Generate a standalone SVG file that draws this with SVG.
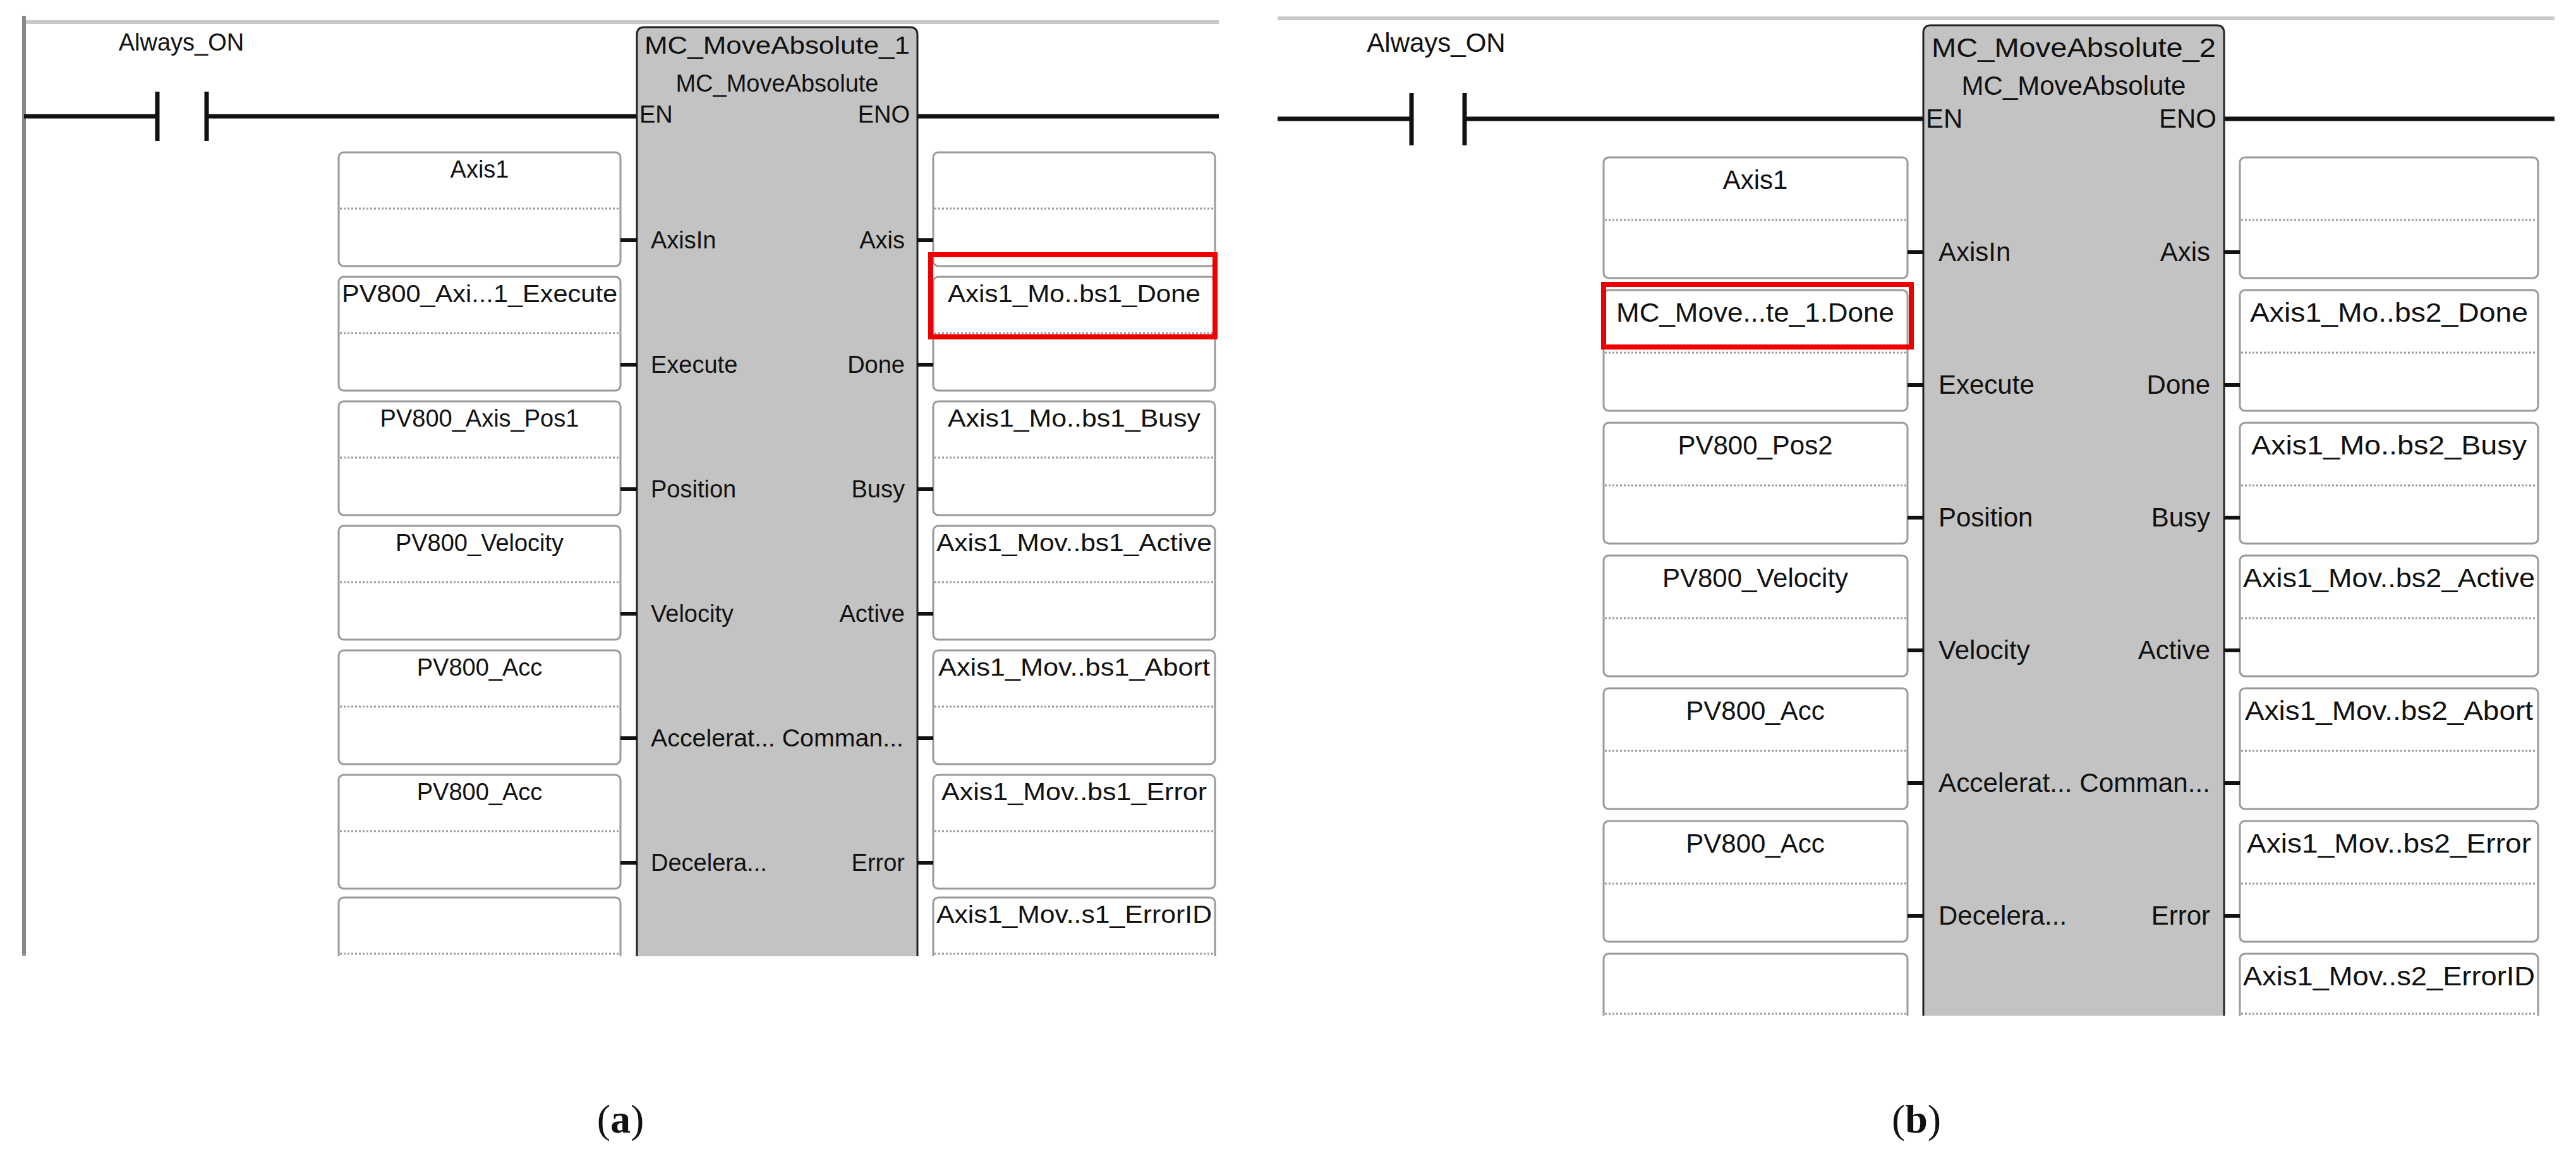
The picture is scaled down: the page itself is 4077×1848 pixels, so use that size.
<svg xmlns="http://www.w3.org/2000/svg" width="4077" height="1848" viewBox="0 0 4077 1848">
<style>
text{font-family:"Liberation Sans",Arial,sans-serif;fill:#111}
.a{font-size:38px}.b{font-size:42px}
.box{fill:#fff;stroke:#9a9a9a;stroke-width:3}
.dot{stroke:#999;stroke-width:3;stroke-dasharray:3 3}
.tick{stroke:#111;stroke-width:6}
.rung{stroke:#111;stroke-width:7;fill:none}
.blk{fill:#c3c3c3;stroke:#222;stroke-width:3}
.red{fill:none;stroke:#e00;stroke-width:8}
.cap{font-family:"Liberation Serif",serif;font-size:64px}
</style>
<defs>
<clipPath id="ca"><rect x="0" y="0" width="2000" height="1513"/></clipPath>
<clipPath id="cb"><rect x="1990" y="0" width="2087" height="1607"/></clipPath>
</defs>
<rect width="4077" height="1848" fill="#fff"/>
<g id="panelA" clip-path="url(#ca)">
<line x1="38" y1="35" x2="1929" y2="35" stroke="#c8c8c8" stroke-width="6"/>
<line x1="38" y1="25" x2="38" y2="1512" stroke="#888" stroke-width="6"/>
<g id="connectorsA">
<path class="rung" d="M38 184H249M327 184H1008M1452 184H1929"/>
<path class="rung" d="M249 145V223M327 145V223"/>
</g>
<text class="a" x="287" y="80" text-anchor="middle">Always_ON</text>
<g id="blockA">
<path class="blk" d="M1008 1520V55Q1008 43 1020 43H1440Q1452 43 1452 55V1520"/>
<text class="a" x="1230" y="85" text-anchor="middle" textLength="420" lengthAdjust="spacingAndGlyphs">MC_MoveAbsolute_1</text>
<text class="a" x="1230" y="145" text-anchor="middle">MC_MoveAbsolute</text>
<text class="a" x="1012" y="194">EN</text>
<text class="a" x="1440" y="194" text-anchor="end">ENO</text>
</g>
<g id="inA">
<rect class="box" x="536" y="241" width="446" height="180" rx="8"/><line class="dot" x1="538" y1="330" x2="980" y2="330"/><text class="a" x="759" y="281" text-anchor="middle">Axis1</text>
<rect class="box" x="536" y="438" width="446" height="180" rx="8"/><line class="dot" x1="538" y1="527" x2="980" y2="527"/><text class="a" x="759" y="478" text-anchor="middle" textLength="436" lengthAdjust="spacingAndGlyphs">PV800_Axi...1_Execute</text>
<rect class="box" x="536" y="635" width="446" height="180" rx="8"/><line class="dot" x1="538" y1="724" x2="980" y2="724"/><text class="a" x="759" y="675" text-anchor="middle">PV800_Axis_Pos1</text>
<rect class="box" x="536" y="832" width="446" height="180" rx="8"/><line class="dot" x1="538" y1="921" x2="980" y2="921"/><text class="a" x="759" y="872" text-anchor="middle">PV800_Velocity</text>
<rect class="box" x="536" y="1029" width="446" height="180" rx="8"/><line class="dot" x1="538" y1="1118" x2="980" y2="1118"/><text class="a" x="759" y="1069" text-anchor="middle">PV800_Acc</text>
<rect class="box" x="536" y="1226" width="446" height="180" rx="8"/><line class="dot" x1="538" y1="1315" x2="980" y2="1315"/><text class="a" x="759" y="1266" text-anchor="middle">PV800_Acc</text>
<rect class="box" x="536" y="1420" width="446" height="180" rx="8"/><line class="dot" x1="538" y1="1509" x2="980" y2="1509"/>
</g>
<g id="outA">
<rect class="box" x="1477" y="241" width="446" height="180" rx="8"/><line class="dot" x1="1479" y1="330" x2="1921" y2="330"/>
<rect class="box" x="1477" y="438" width="446" height="180" rx="8"/><line class="dot" x1="1479" y1="527" x2="1921" y2="527"/><text class="a" x="1700" y="478" text-anchor="middle" textLength="400" lengthAdjust="spacingAndGlyphs">Axis1_Mo..bs1_Done</text>
<rect class="box" x="1477" y="635" width="446" height="180" rx="8"/><line class="dot" x1="1479" y1="724" x2="1921" y2="724"/><text class="a" x="1700" y="675" text-anchor="middle" textLength="400" lengthAdjust="spacingAndGlyphs">Axis1_Mo..bs1_Busy</text>
<rect class="box" x="1477" y="832" width="446" height="180" rx="8"/><line class="dot" x1="1479" y1="921" x2="1921" y2="921"/><text class="a" x="1700" y="872" text-anchor="middle" textLength="436" lengthAdjust="spacingAndGlyphs">Axis1_Mov..bs1_Active</text>
<rect class="box" x="1477" y="1029" width="446" height="180" rx="8"/><line class="dot" x1="1479" y1="1118" x2="1921" y2="1118"/><text class="a" x="1700" y="1069" text-anchor="middle" textLength="430" lengthAdjust="spacingAndGlyphs">Axis1_Mov..bs1_Abort</text>
<rect class="box" x="1477" y="1226" width="446" height="180" rx="8"/><line class="dot" x1="1479" y1="1315" x2="1921" y2="1315"/><text class="a" x="1700" y="1266" text-anchor="middle" textLength="420" lengthAdjust="spacingAndGlyphs">Axis1_Mov..bs1_Error</text>
<rect class="box" x="1477" y="1420" width="446" height="180" rx="8"/><line class="dot" x1="1479" y1="1509" x2="1921" y2="1509"/><text class="a" x="1700" y="1460" text-anchor="middle" textLength="436" lengthAdjust="spacingAndGlyphs">Axis1_Mov..s1_ErrorID</text>
</g>
<g id="pinsA">
<path class="tick" d="M982 380H1008M982 577H1008M982 774H1008M982 971H1008M982 1168H1008M982 1365H1008M1452 380H1477M1452 577H1477M1452 774H1477M1452 971H1477M1452 1168H1477M1452 1365H1477"/>
<text class="a" x="1030" y="393">AxisIn</text><text class="a" x="1432" y="393" text-anchor="end">Axis</text>
<text class="a" x="1030" y="590">Execute</text><text class="a" x="1432" y="590" text-anchor="end">Done</text>
<text class="a" x="1030" y="787">Position</text><text class="a" x="1432" y="787" text-anchor="end">Busy</text>
<text class="a" x="1030" y="984">Velocity</text><text class="a" x="1432" y="984" text-anchor="end">Active</text>
<text class="a" x="1030" y="1181" textLength="400" lengthAdjust="spacingAndGlyphs">Accelerat... Comman...</text>
<text class="a" x="1030" y="1378">Decelera...</text><text class="a" x="1432" y="1378" text-anchor="end">Error</text>
</g>
<rect class="red" x="1473" y="403" width="450" height="130"/>
</g>
<g id="panelB" clip-path="url(#cb)">
<line x1="2022" y1="29" x2="4043" y2="29" stroke="#c8c8c8" stroke-width="6"/>
<g id="connectorsB">
<path class="rung" d="M2022 188H2234M2318 188H3044M3520 188H4043"/>
<path class="rung" d="M2234 147V230M2318 147V230"/>
</g>
<text class="b" x="2273" y="82" text-anchor="middle">Always_ON</text>
<g id="blockB">
<path class="blk" d="M3044 1615V52Q3044 40 3056 40H3508Q3520 40 3520 52V1615"/>
<text class="b" x="3282" y="90" text-anchor="middle" textLength="450" lengthAdjust="spacingAndGlyphs">MC_MoveAbsolute_2</text>
<text class="b" x="3282" y="150" text-anchor="middle">MC_MoveAbsolute</text>
<text class="b" x="3048" y="202">EN</text>
<text class="b" x="3508" y="202" text-anchor="end">ENO</text>
</g>
<g id="inB">
<rect class="box" x="2538" y="249" width="481" height="191" rx="8"/><line class="dot" x1="2540" y1="348" x2="3017" y2="348"/><text class="b" x="2778" y="299" text-anchor="middle">Axis1</text>
<rect class="box" x="2538" y="459" width="481" height="191" rx="8"/><line class="dot" x1="2540" y1="558" x2="3017" y2="558"/><text class="b" x="2778" y="509" text-anchor="middle" textLength="440" lengthAdjust="spacingAndGlyphs">MC_Move...te_1.Done</text>
<rect class="box" x="2538" y="669" width="481" height="191" rx="8"/><line class="dot" x1="2540" y1="768" x2="3017" y2="768"/><text class="b" x="2778" y="719" text-anchor="middle">PV800_Pos2</text>
<rect class="box" x="2538" y="879" width="481" height="191" rx="8"/><line class="dot" x1="2540" y1="978" x2="3017" y2="978"/><text class="b" x="2778" y="929" text-anchor="middle">PV800_Velocity</text>
<rect class="box" x="2538" y="1089" width="481" height="191" rx="8"/><line class="dot" x1="2540" y1="1188" x2="3017" y2="1188"/><text class="b" x="2778" y="1139" text-anchor="middle">PV800_Acc</text>
<rect class="box" x="2538" y="1299" width="481" height="191" rx="8"/><line class="dot" x1="2540" y1="1398" x2="3017" y2="1398"/><text class="b" x="2778" y="1349" text-anchor="middle">PV800_Acc</text>
<rect class="box" x="2538" y="1509" width="481" height="191" rx="8"/><line class="dot" x1="2540" y1="1604" x2="3017" y2="1604"/>
</g>
<g id="outB">
<rect class="box" x="3545" y="249" width="472" height="191" rx="8"/><line class="dot" x1="3547" y1="348" x2="4015" y2="348"/>
<rect class="box" x="3545" y="459" width="472" height="191" rx="8"/><line class="dot" x1="3547" y1="558" x2="4015" y2="558"/><text class="b" x="3781" y="509" text-anchor="middle" textLength="440" lengthAdjust="spacingAndGlyphs">Axis1_Mo..bs2_Done</text>
<rect class="box" x="3545" y="669" width="472" height="191" rx="8"/><line class="dot" x1="3547" y1="768" x2="4015" y2="768"/><text class="b" x="3781" y="719" text-anchor="middle" textLength="436" lengthAdjust="spacingAndGlyphs">Axis1_Mo..bs2_Busy</text>
<rect class="box" x="3545" y="879" width="472" height="191" rx="8"/><line class="dot" x1="3547" y1="978" x2="4015" y2="978"/><text class="b" x="3781" y="929" text-anchor="middle" textLength="462" lengthAdjust="spacingAndGlyphs">Axis1_Mov..bs2_Active</text>
<rect class="box" x="3545" y="1089" width="472" height="191" rx="8"/><line class="dot" x1="3547" y1="1188" x2="4015" y2="1188"/><text class="b" x="3781" y="1139" text-anchor="middle" textLength="456" lengthAdjust="spacingAndGlyphs">Axis1_Mov..bs2_Abort</text>
<rect class="box" x="3545" y="1299" width="472" height="191" rx="8"/><line class="dot" x1="3547" y1="1398" x2="4015" y2="1398"/><text class="b" x="3781" y="1349" text-anchor="middle" textLength="450" lengthAdjust="spacingAndGlyphs">Axis1_Mov..bs2_Error</text>
<rect class="box" x="3545" y="1509" width="472" height="191" rx="8"/><line class="dot" x1="3547" y1="1604" x2="4015" y2="1604"/><text class="b" x="3781" y="1559" text-anchor="middle" textLength="462" lengthAdjust="spacingAndGlyphs">Axis1_Mov..s2_ErrorID</text>
</g>
<g id="pinsB">
<path class="tick" d="M3019 399H3044M3019 609H3044M3019 819H3044M3019 1029H3044M3019 1239H3044M3019 1449H3044M3520 399H3545M3520 609H3545M3520 819H3545M3520 1029H3545M3520 1239H3545M3520 1449H3545"/>
<text class="b" x="3068" y="413">AxisIn</text><text class="b" x="3498" y="413" text-anchor="end">Axis</text>
<text class="b" x="3068" y="623">Execute</text><text class="b" x="3498" y="623" text-anchor="end">Done</text>
<text class="b" x="3068" y="833">Position</text><text class="b" x="3498" y="833" text-anchor="end">Busy</text>
<text class="b" x="3068" y="1043">Velocity</text><text class="b" x="3498" y="1043" text-anchor="end">Active</text>
<text class="b" x="3068" y="1253" textLength="430" lengthAdjust="spacingAndGlyphs">Accelerat... Comman...</text>
<text class="b" x="3068" y="1463">Decelera...</text><text class="b" x="3498" y="1463" text-anchor="end">Error</text>
</g>
<rect class="red" x="2538" y="450" width="487" height="99"/>
</g>
<text class="cap" x="982" y="1792" text-anchor="middle">(<tspan font-weight="bold">a</tspan>)</text>
<text class="cap" x="3033" y="1792" text-anchor="middle">(<tspan font-weight="bold">b</tspan>)</text>
</svg>
